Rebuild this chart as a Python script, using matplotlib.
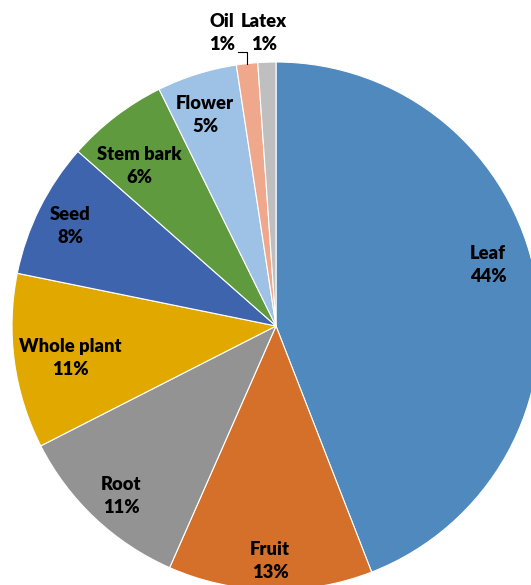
import numpy as np
import matplotlib
matplotlib.use("Agg")
import matplotlib.pyplot as plt

# plant part shares (percent of total)
parts = ["Leaf", "Fruit", "Root", "Whole plant", "Seed", "Stem bark", "Flower", "Oil", "Latex"]
shares = [44.1, 12.5, 10.9, 10.7, 8.3, 6.2, 4.9, 1.3, 1.1]
pct_labels = ["44%", "13%", "11%", "11%", "8%", "6%", "5%", "1%", "1%"]

colors = ["#4F89BE", "#D5702B", "#939393", "#E1A900", "#3D64AD",
          "#5F9B3E", "#9EC1E6", "#F0A88C", "#BFBFBF"]

W, H = 531, 585
cx, cy, R = 276, 326, 264  # pie centre / radius in pixels

# label centres in pixels (layout only)
label_px = [(488, 265), (270, 561), (121, 496), (70, 358), (70, 226),
            (139, 166), (205, 115), (222, 33), (264, 33)]

fig = plt.figure(figsize=(W / 100, H / 100), dpi=100)
ax = fig.add_axes([0, 0, 1, 1])

wedges, _ = ax.pie(shares, colors=colors, startangle=90, counterclock=False,
                   wedgeprops=dict(edgecolor="white", linewidth=0.8))

ax.set_aspect("auto")
ax.set_xlim(-cx / R, (W - cx) / R)
ax.set_ylim((cy - H) / R, cy / R)
ax.axis("off")

font = dict(family=["Lato", "DejaVu Sans"], fontweight="heavy", fontsize=13.2,
            color="black", ha="center", va="center", linespacing=1.42)

for i, w in enumerate(wedges):
    px, py = label_px[i]
    x = (px - cx) / R
    y = (cy - py) / R
    if parts[i] == "Oil":
        # leader line from label to slice
        mid = np.deg2rad((w.theta1 + w.theta2) / 2)
        ex, ey = np.cos(mid), np.sin(mid)
        ly = (cy - 52) / R
        ax.plot([(238 - cx) / R, ex, ex], [ly, ly, ey], color="black", lw=0.8)
    ax.text(x, y, parts[i] + "\n" + pct_labels[i], **font)

fig.savefig("out.png", dpi=100)
